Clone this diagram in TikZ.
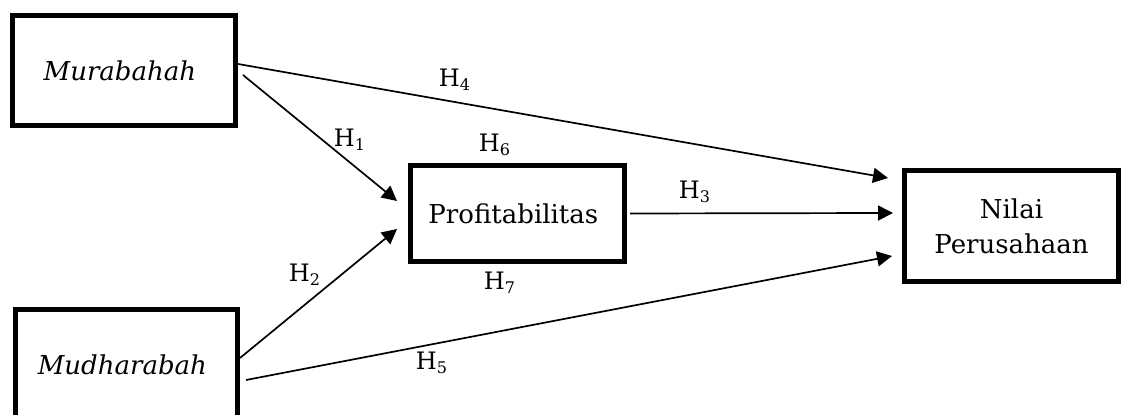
\documentclass[tikz,border=0pt]{standalone}
\usepackage{fontspec}
\setmainfont{DejaVu Serif}
\usepackage{tikz}
\usetikzlibrary {arrows,arrows.meta,positioning}

\begin{document}
\begin{tikzpicture}[x=0.5pt,y=-0.5pt,
    varbox/.style={rectangle,line width=2.5pt,draw=black,align=center,font=\fontsize{13}{17.5}\selectfont},
    hyp/.style={inner sep=0pt,font=\fontsize{12}{13}\selectfont},
    conn/.style={line width=0.85pt,black},
    tip/.style={-{Triangle[length=7.5pt,width=7.5pt]}},
   ]
    \useasboundingbox (0,0) rectangle (1124,415);
    \clip (0,0) rectangle (1124,415);

    \node (mura)   [varbox,minimum width=111.5pt,minimum height=55pt] at (124,70.5)   { \itshape Murabahah };
    \node (mudh)   [varbox,minimum width=111pt,minimum height=55.5pt] at (126.5,365)  { \itshape Mudharabah };
    \node (prof)   [varbox,minimum width=107pt,minimum height=48pt]   at (517.5,213.5) { Profitabilitas };
    \node (nilai)  [varbox,minimum width=107pt,minimum height=55.5pt] at (1011.5,226) { Nilai\\Perusahaan };

    \node (h1) [hyp] at (350,140) { H\textsubscript{1} };
    \node (h2) [hyp] at (305,275) { H\textsubscript{2} };
    \node (h3) [hyp] at (695,192) { H\textsubscript{3} };
    \node (h4) [hyp] at (455,80)  { H\textsubscript{4} };
    \node (h5) [hyp] at (432,363) { H\textsubscript{5} };
    \node (h6) [hyp] at (495,145) { H\textsubscript{6} };
    \node (h7) [hyp] at (500,283) { H\textsubscript{7} };

    \draw[conn] ([shift={(0,-6.5)}]mura.east) edge[tip] ([shift={(-14,-48)}]nilai.west);
    \draw[conn] ([shift={(5,4.5)}]mura.east) edge[tip] ([shift={(-11,-12.5)}]prof.west);
    \draw[conn] ([shift={(0,-7)}]mudh.east) edge[tip] ([shift={(-11,15.5)}]prof.west);
    \draw[conn] ([shift={(6,15)}]mudh.east) edge[tip] ([shift={(-10,30)}]nilai.west);
    \draw[conn] ([shift={(3,0)}]prof.east) edge[tip] ([shift={(-9,-13)}]nilai.west);
  \end{tikzpicture}
\end{document}
